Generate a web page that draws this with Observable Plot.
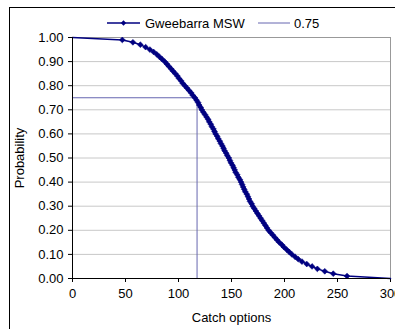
<!DOCTYPE html>
<html>
<head>
<meta charset="utf-8">
<script src="https://cdn.jsdelivr.net/npm/d3@7"></script>
<script src="https://cdn.jsdelivr.net/npm/@observablehq/plot@0.6"></script>
<style>
  html, body { margin: 0; padding: 0; background: #fff; }
  #wrap { position: relative; width: 395px; height: 329px; overflow: hidden; font-family: Arial, "Liberation Sans", sans-serif; }
  #border { position: absolute; left: 9px; top: 7px; width: 420px; height: 360px; border: 1px solid #000; box-sizing: border-box; }
  #chart { position: absolute; left: 0; top: 0; }
  #legend { position: absolute; left: 0; top: 0; width: 395px; height: 40px; }
</style>
</head>
<body>
<div id="wrap">
  <div id="border"></div>
  <div id="chart"></div>
  <svg id="legend" width="395" height="40"></svg>
</div>
<script>
// Series: Gweebarra MSW (catch option vs probability)
const probability = [1.00,
  0.99,0.98,0.97,0.96,0.95,0.94,0.93,0.92,0.91,0.90,
  0.89,0.88,0.87,0.86,0.85,0.84,0.83,0.82,0.81,0.80,
  0.79,0.78,0.77,0.76,0.75,0.74,0.73,0.72,0.71,0.70,
  0.69,0.68,0.67,0.66,0.65,0.64,0.63,0.62,0.61,0.60,
  0.59,0.58,0.57,0.56,0.55,0.54,0.53,0.52,0.51,0.50,
  0.49,0.48,0.47,0.46,0.45,0.44,0.43,0.42,0.41,0.40,
  0.39,0.38,0.37,0.36,0.35,0.34,0.33,0.32,0.31,0.30,
  0.29,0.28,0.27,0.26,0.25,0.24,0.23,0.22,0.21,0.20,
  0.19,0.18,0.17,0.16,0.15,0.14,0.13,0.12,0.11,0.10,
  0.09,0.08,0.07,0.06,0.05,0.04,0.03,0.02,0.01,
  0.00];
const catchOptions = [0,
  47,57,64,69,73,76.5,79.5,82,84.5,87,
  89,91,93,95,97,99,100.5,102.5,104,106,
  108,110,112,113.5,115.5,117,118.5,119.5,121,122,
  123.5,125,126.5,128,129,130.5,131.5,133,134,135,
  136.5,137.5,139,140,141.5,142.5,143.5,145,146,147.5,
  148.5,149.5,151,152,153,154,155.5,156.5,158,159,
  160,161,162,163,164.5,165.5,166.5,167.5,169,170,
  171.5,173,174.5,176,177.5,179,180.5,182,183.5,185,
  187,189,191,193,195,197.5,199.5,202,204.5,207,
  210,213,216.5,221,226,231,238,246,259,
  300];
// Series: 0.75 reference
const refX = [0, 117.5, 117.5];
const refY = [0.75, 0.75, 0];
const xTicks = [0, 50, 100, 150, 200, 250, 300];
const yTicks = [0, 0.1, 0.2, 0.3, 0.4, 0.5, 0.6, 0.7, 0.8, 0.9, 1.0];
const seriesNames = ["Gweebarra MSW", "0.75"];

const series = probability.map((p, i) => ({x: catchOptions[i], y: p, marked: i > 0 && i < probability.length - 1}));
const ref = refX.map((x, i) => ({x, y: refY[i]}));

const navy = "#000080";
const refColor = "#6666b0";

const chart = Plot.plot({
  width: 395,
  height: 329,
  marginLeft: 72,
  marginRight: 5,
  marginTop: 37,
  marginBottom: 51,
  style: {fontFamily: "Arial, 'Liberation Sans', sans-serif", fontSize: "13px", color: "#000", background: "transparent"},
  x: {domain: [0, 300]},
  y: {domain: [0, 1]},
  marks: [
    Plot.gridY(yTicks.filter(t => t > 0 && t < 1), {stroke: "#c8c8c8", strokeOpacity: 1}),
    Plot.ruleY([1], {stroke: "#999"}),
    Plot.ruleX([300], {stroke: "#999"}),
    Plot.axisY({ticks: yTicks, tickFormat: d3.format(".2f"), tickSize: 4, tickPadding: 5, label: "Probability", labelAnchor: "center", labelArrow: "none", labelOffset: 58}),
    Plot.axisX({ticks: xTicks, tickFormat: d3.format("d"), tickSize: 4, tickPadding: 6, label: "Catch options", labelAnchor: "center", labelArrow: "none", labelOffset: 43}),
    Plot.line(ref, {x: "x", y: "y", stroke: refColor, strokeWidth: 1}),
    Plot.line(series, {x: "x", y: "y", stroke: navy, strokeWidth: 1.5}),
    Plot.dot(series.filter(d => d.marked), {x: "x", y: "y", symbol: "diamond2", r: 2.6, fill: navy, stroke: navy, strokeWidth: 0.6}),
    Plot.ruleX([0], {stroke: "#000"}),
    Plot.ruleY([0], {stroke: "#000"})
  ]
});
document.getElementById("chart").appendChild(chart);

// Legend
const lg = d3.select("#legend");
const items = [
  {name: seriesNames[0], x1: 107, x2: 140, color: navy, w: 1.5, marker: true, tx: 145},
  {name: seriesNames[1], x1: 258, x2: 290, color: refColor, w: 1, marker: false, tx: 294}
];
items.forEach(it => {
  lg.append("line").attr("x1", it.x1).attr("x2", it.x2).attr("y1", 23).attr("y2", 23)
    .attr("stroke", it.color).attr("stroke-width", it.w);
  if (it.marker) {
    lg.append("path").attr("d", d3.symbol(d3.symbolDiamond2, 18)()).attr("transform", `translate(${(it.x1 + it.x2) / 2},23)`).attr("fill", it.color);
  }
  lg.append("text").attr("x", it.tx).attr("y", 23).attr("dy", "0.35em")
    .attr("font-family", "Arial, 'Liberation Sans', sans-serif").attr("font-size", "13px").attr("fill", "#000").text(it.name);
});
</script>
</body>
</html>
